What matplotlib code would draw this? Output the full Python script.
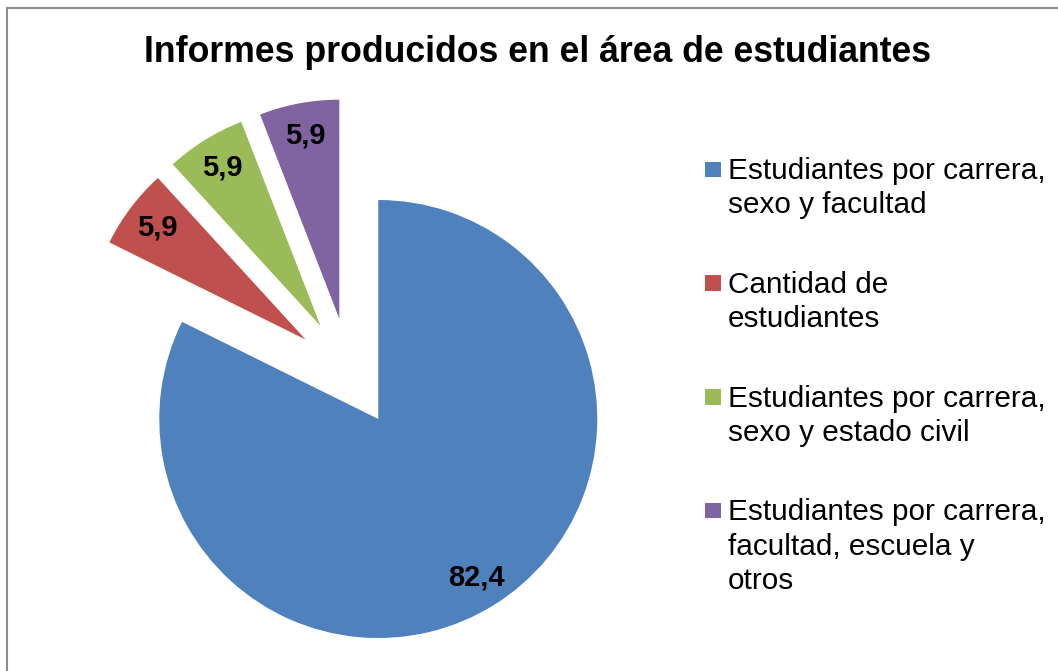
import matplotlib
matplotlib.use('Agg')
import matplotlib.pyplot as plt
from matplotlib.patches import Rectangle

# datos del grafico
categorias = ['Estudiantes por carrera,\nsexo y facultad',
              'Cantidad de\nestudiantes',
              'Estudiantes por carrera,\nsexo y estado civil',
              'Estudiantes por carrera,\nfacultad, escuela y\notros']
valores = [82.4, 5.9, 5.9, 5.9]
colores = ['#4F81BD', '#C0504D', '#9BBB59', '#8064A2']
etiquetas = [f'{v:.1f}'.replace('.', ',') for v in valores]

plt.rcParams['font.family'] = ['Liberation Sans', 'DejaVu Sans']

W, H = 1058, 671
fig = plt.figure(figsize=(W / 100, H / 100), dpi=100)


def fx(px):
    return px / W


def fy(py):
    # pixeles desde arriba -> fraccion de figura
    return 1 - py / H


# pie en coordenadas de pixeles
ax = fig.add_axes([0, 0, 1, 1])
radio = 219
wedges, texts = ax.pie(valores, colors=colores, labels=etiquetas,
                       explode=[0.25 * radio] * len(valores),
                       startangle=90, counterclock=False,
                       radius=radio, center=(349.4, H - 372.5),
                       labeldistance=0.85,
                       wedgeprops=dict(linewidth=0),
                       textprops=dict(fontsize=21, fontweight='bold', color='black'))
for t in texts:
    t.set_ha('center')
    t.set_va('center')
ax.set_xlim(0, W)
ax.set_ylim(0, H)
ax.set_aspect('equal')
ax.axis('off')

# titulo
fig.text(fx(538), fy(61.7), 'Informes producidos en el área de estudiantes',
         ha='center', va='baseline', fontsize=25.7, fontweight='bold')

# leyenda
paso_linea = 34.3
for i, (cat, col) in enumerate(zip(categorias, colores)):
    base = 179 + i * 113.7
    fig.patches.append(Rectangle((fx(705), fy(base - 1.7)), fx(15.5), 15.5 / H,
                                 transform=fig.transFigure, facecolor=col,
                                 edgecolor='none'))
    n = cat.count('\n')
    fig.text(fx(728), fy(base + n * paso_linea), cat, ha='left', va='baseline',
             fontsize=21.4, linespacing=1.28)

# borde del grafico
fig.patches.append(Rectangle((fx(6.7), -0.1), 1.2, fy(8) + 0.1,
                             transform=fig.transFigure, fill=False,
                             edgecolor='#8c8c8c', linewidth=1.5))

fig.savefig('out.png', dpi=100)
